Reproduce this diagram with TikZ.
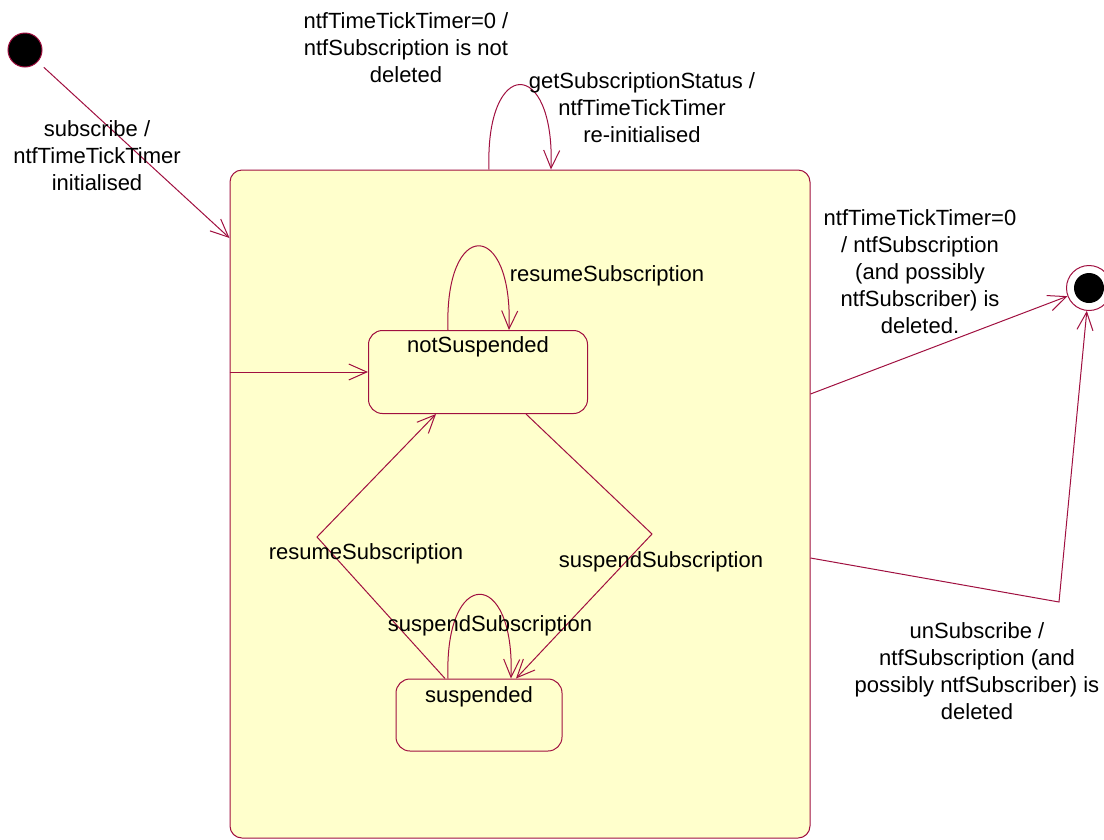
\documentclass[tikz,border=0pt]{standalone}
\usepackage{fontspec}
\setsansfont{Liberation Sans}
\usetikzlibrary{positioning,arrows.meta}
\definecolor{umlred}{RGB}{160,16,64}
\definecolor{umlfill}{RGB}{255,255,204}

\begin{document}
\begin{tikzpicture}[x=1pt,y=-1pt,line width=1pt,>={Straight Barb[length=18pt,width=16pt]},
  state/.style={draw=umlred,fill=umlfill,rounded corners=14pt,inner sep=0pt},
  initial/.style={circle,draw=umlred,fill=black,minimum size=34pt,inner sep=0pt},
  final/.style={circle,draw=umlred,fill=white,minimum size=45pt,inner sep=0pt,
    path picture={\fill[black] (path picture bounding box.center) circle (15pt);}},
  trans/.style={->,umlred},
  txt/.style={align=center,inner sep=0pt,font=\fontsize{22}{27}\selectfont}]
\sffamily
\useasboundingbox (0,0) rectangle (1104,839);

\node[initial] (start) at (25,50) {};
\node[state,rounded corners=12pt,minimum width=580pt,minimum height=668pt] (active) at (520,504) {};
\node[state,minimum width=219pt,minimum height=83pt] (notsusp) at (478,372) {};
\node[txt] (notsusptext) at ([yshift=-17pt]notsusp.north) {notSuspended};
\node[state,minimum width=166pt,minimum height=72pt] (susp) at (479,715) {};
\node[txt] (susptext) at ([yshift=-18pt]susp.north) {suspended};
\node[final] (end) at (1089,288) {};

\coordinate (resbend) at (317,537);
\coordinate (susbend) at (652,534);
\coordinate (unsubbend) at (1059,602);

\draw[trans,shorten <=8pt] (start) -- (active.west |- 0,238);
\draw[trans] (active.west |- notsusp.west) -- (notsusp.west);
\draw[trans] ([xshift=-31pt]active.north) .. controls +(-4,-113) and +(4,-113) .. ([xshift=31pt]active.north);
\draw[trans] ([xshift=-30pt]notsusp.north) .. controls +(-4,-112) and +(4,-112) .. ([xshift=31pt]notsusp.north);
\draw[trans] ([xshift=-31pt]susp.north) .. controls +(-4,-112) and +(4,-112) .. ([xshift=32pt]susp.north);
\draw[trans] ([xshift=-34pt]susp.north) -- (resbend) -- ([xshift=-42pt]notsusp.south);
\draw[trans] ([xshift=48pt]notsusp.south) -- (susbend) -- ([xshift=37pt]susp.north);
\draw[trans] (active.east |- 0,394) -- (end);
\draw[trans] (active.east |- 0,558) -- (unsubbend) -- (end);

\node[txt] (subscribelabel) at (97,156) {subscribe /\\ntfTimeTickTimer\\initialised};
\node[txt] (notdeletedlabel) at (406,48) {ntfTimeTickTimer=0 /\\ntfSubscription is not\\deleted};
\node[txt] (statuslabel) at (642,108) {getSubscriptionStatus /\\ntfTimeTickTimer\\re-initialised};
\node[txt] (resumeloop) at (607,276) {resumeSubscription};
\node[txt] (resumelabel) at (366,554) {resumeSubscription};
\node[txt] (suspendlabel) at (661,562) {suspendSubscription};
\node[txt] (suspendloop) at (490,626) {suspendSubscription};
\node[txt] (deletedlabel) at (920,272) {ntfTimeTickTimer=0\\/ ntfSubscription\\(and possibly\\ntfSubscriber) is\\deleted.};
\node[txt] (unsublabel) at (977,671) {unSubscribe /\\ntfSubscription (and\\possibly ntfSubscriber) is\\deleted};
\end{tikzpicture}
\end{document}
